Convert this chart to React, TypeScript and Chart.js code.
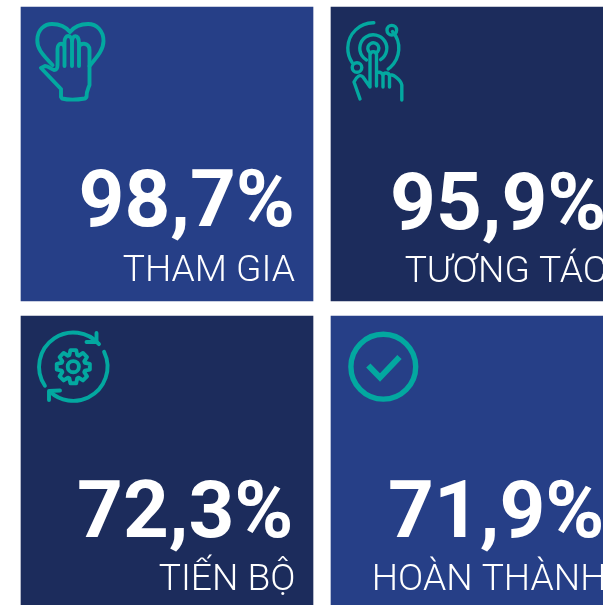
import React, { useEffect, useRef } from "react";
import { Chart, registerables } from "chart.js";

Chart.register(...registerables);

const percentValues = [98.7, 95.9, 72.3, 71.9];
const tileLabels = ["THAM GIA", "TƯƠNG TÁC", "TIẾN BỘ", "HOÀN THÀNH"];
const tileColumns = [0, 1, 0, 1];
const tileRows = [0, 0, 1, 1];
const tileColors = ["#263F87", "#1C2C5C", "#1C2C5C", "#263F87"];
const iconNames = ["heart", "touch", "gear", "check"];

const TEAL = "#03A8A0";
const TILE_W = 292;
const numberRight = [274, 275.5, 272.5, 273.5];
const numberBase = [219, 222, 221, 221];
const labelRight = [274, 276, 274.5, 275.5];
const labelBase = [274, 275, 274, 274];

type Ctx = CanvasRenderingContext2D;

function drawHeart(c: Ctx) {
  c.lineWidth = 3.9;
  c.beginPath();
  c.moveTo(31.5, 58);
  c.bezierCurveTo(20, 46, 16, 41, 16.3, 33);
  c.bezierCurveTo(16.5, 22, 24, 17, 31, 17);
  c.bezierCurveTo(39, 17, 45, 20, 49, 25);
  c.bezierCurveTo(53, 20, 59, 17, 67, 17);
  c.bezierCurveTo(76, 17, 82.5, 24, 82.5, 34);
  c.bezierCurveTo(82.5, 43, 76, 50, 68.5, 59);
  c.stroke();
  c.beginPath();
  c.moveTo(20, 61);
  c.lineTo(24, 59);
  c.bezierCurveTo(28, 59, 31, 63, 33, 63);
  c.bezierCurveTo(36, 63, 36.5, 61, 36.5, 58);
  c.lineTo(36.5, 42);
  c.bezierCurveTo(36.5, 35, 43.5, 35, 43.5, 42);
  c.moveTo(43.5, 59);
  c.lineTo(43.5, 35);
  c.bezierCurveTo(43.5, 27, 51, 27, 51, 35);
  c.lineTo(51, 59);
  c.moveTo(51, 35);
  c.bezierCurveTo(51, 27, 58, 27, 58, 36);
  c.lineTo(58, 59);
  c.moveTo(58, 41);
  c.bezierCurveTo(58, 35, 68.5, 35, 68.5, 43);
  c.lineTo(68.5, 78);
  c.bezierCurveTo(67, 82, 65.5, 84, 65.5, 90);
  c.lineTo(64, 91.5);
  c.bezierCurveTo(55, 93, 47, 93, 41, 91.5);
  c.lineTo(40, 90);
  c.lineTo(40, 82);
  c.lineTo(20, 61);
  c.stroke();
}

function drawTouch(c: Ctx) {
  c.lineWidth = 3.4;
  const cx = 42.3;
  const cy = 41.3;
  c.beginPath();
  c.arc(cx, cy, 25.5, -1.55, 2.55, true);
  c.stroke();
  c.beginPath();
  c.arc(cx, cy, 25.5, -0.72, 0.95);
  c.stroke();
  c.beginPath();
  c.arc(cx, cy, 13.5, 1.0, 2.1, true);
  c.stroke();
  c.beginPath();
  c.arc(cx, cy, 5.5, 1.1, 2.05, true);
  c.stroke();
  c.beginPath();
  c.arc(60.8, 23.2, 4.8, 0, Math.PI * 2);
  c.stroke();
  c.beginPath();
  c.arc(26, 60.5, 4.8, 0, Math.PI * 2);
  c.stroke();
  c.beginPath();
  c.moveTo(39, 47);
  c.bezierCurveTo(39.5, 44, 45, 44, 45.5, 47);
  c.lineTo(45.5, 79);
  c.moveTo(39, 47);
  c.lineTo(39, 80);
  c.lineTo(32, 70);
  c.bezierCurveTo(29, 67, 26, 69, 23, 75);
  c.lineTo(29, 92);
  c.moveTo(45.5, 65);
  c.bezierCurveTo(50, 65, 52, 66, 52, 69);
  c.lineTo(52, 80);
  c.moveTo(52, 69);
  c.bezierCurveTo(52, 65, 58, 65, 58.5, 69);
  c.lineTo(58.5, 80);
  c.moveTo(58.5, 69);
  c.bezierCurveTo(60, 65, 70, 73, 70.8, 78);
  c.lineTo(70.8, 93);
  c.stroke();
}

function drawGear(c: Ctx) {
  c.lineWidth = 3.9;
  const cx = 52.3;
  const cy = 50.7;
  c.beginPath();
  c.arc(cx, cy, 34.2, 2.55, -0.72);
  c.stroke();
  c.beginPath();
  c.arc(cx, cy, 34.2, -0.45, 2.32);
  c.stroke();
  c.beginPath();
  c.moveTo(75.5, 17);
  c.lineTo(75.5, 26);
  c.lineTo(65.5, 26);
  c.moveTo(28, 84);
  c.lineTo(28, 75);
  c.lineTo(39, 74.5);
  c.stroke();
  c.beginPath();
  c.arc(cx, cy, 5.6, 0, Math.PI * 2);
  c.stroke();
  c.beginPath();
  const teeth = 8;
  for (let i = 0; i < teeth; i++) {
    const a = (i / teeth) * Math.PI * 2 - Math.PI / 2;
    const step = (Math.PI * 2) / teeth;
    const points: [number, number][] = [
      [12.2, a - step * 0.42],
      [16.8, a - step * 0.22],
      [16.8, a + step * 0.22],
      [12.2, a + step * 0.42],
    ];
    points.forEach(([r, t], j) => {
      const x = cx + r * Math.cos(t);
      const y = cy + r * Math.sin(t);
      if (i === 0 && j === 0) c.moveTo(x, y);
      else c.lineTo(x, y);
    });
  }
  c.closePath();
  c.lineJoin = "round";
  c.stroke();
}

function drawCheck(c: Ctx) {
  c.lineWidth = 5.4;
  c.beginPath();
  c.arc(52.3, 50.7, 32.4, 0, Math.PI * 2);
  c.stroke();
  c.lineWidth = 6;
  c.lineCap = "butt";
  c.lineJoin = "miter";
  c.beginPath();
  c.moveTo(37.3, 49.5);
  c.lineTo(49, 61.5);
  c.lineTo(68.5, 41);
  c.stroke();
}

const iconDrawers: Record<string, (c: Ctx) => void> = {
  heart: drawHeart,
  touch: drawTouch,
  gear: drawGear,
  check: drawCheck,
};

const tileTextPlugin = {
  id: "tileText",
  afterDatasetsDraw(chart: any) {
    const c: Ctx = chart.ctx;
    const meta = chart.getDatasetMeta(0);
    meta.data.forEach((bar: any, i: number) => {
      const left = bar.x - bar.width / 2;
      const top = Math.min(bar.y, bar.base);
      c.save();
      c.filter = "blur(0.5px)";
      c.translate(left, top);
      c.strokeStyle = TEAL;
      c.lineCap = "round";
      c.lineJoin = "round";
      iconDrawers[iconNames[i]](c);
      c.restore();

      c.save();
      c.filter = "blur(0.35px)";
      c.fillStyle = "#FFFFFF";
      c.textAlign = "right";
      c.textBaseline = "alphabetic";
      c.font = "700 80px Roboto";
      c.fillText(
        percentValues[i].toFixed(1).replace(".", ",") + "%",
        left + numberRight[i],
        top + numberBase[i]
      );
      c.font = "300 37.2px Roboto";
      c.fillText(tileLabels[i], left + labelRight[i], top + labelBase[i]);
      c.restore();
    });
  },
};

export default function App() {
  const ref = useRef<HTMLCanvasElement>(null);
  useEffect(() => {
    const chart = new Chart(ref.current!, {
      type: "bar",
      data: {
        datasets: [
          {
            data: percentValues.map((_, i) => ({
              x: tileColumns[i],
              y: [tileRows[i], tileRows[i] + 0.951],
            })) as any,
            backgroundColor: tileColors,
            borderWidth: 0,
            barThickness: TILE_W,
          },
        ],
      },
      options: {
        responsive: false,
        animation: false,
        layout: { padding: 0 },
        scales: {
          x: { type: "linear", display: false, min: -167 / 310, max: 436 / 310, offset: false },
          y: { type: "linear", display: false, reverse: true, min: -7 / 309, max: 598 / 309 },
        },
        plugins: { legend: { display: false }, tooltip: { enabled: false }, title: { display: false } },
      },
      plugins: [tileTextPlugin],
    });
    return () => chart.destroy();
  }, []);
  return (
    <canvas
      ref={ref}
      width={603}
      height={605}
      style={{ position: "absolute", left: 0, top: 0, width: 603, height: 605, display: "block" }}
    />
  );
}
